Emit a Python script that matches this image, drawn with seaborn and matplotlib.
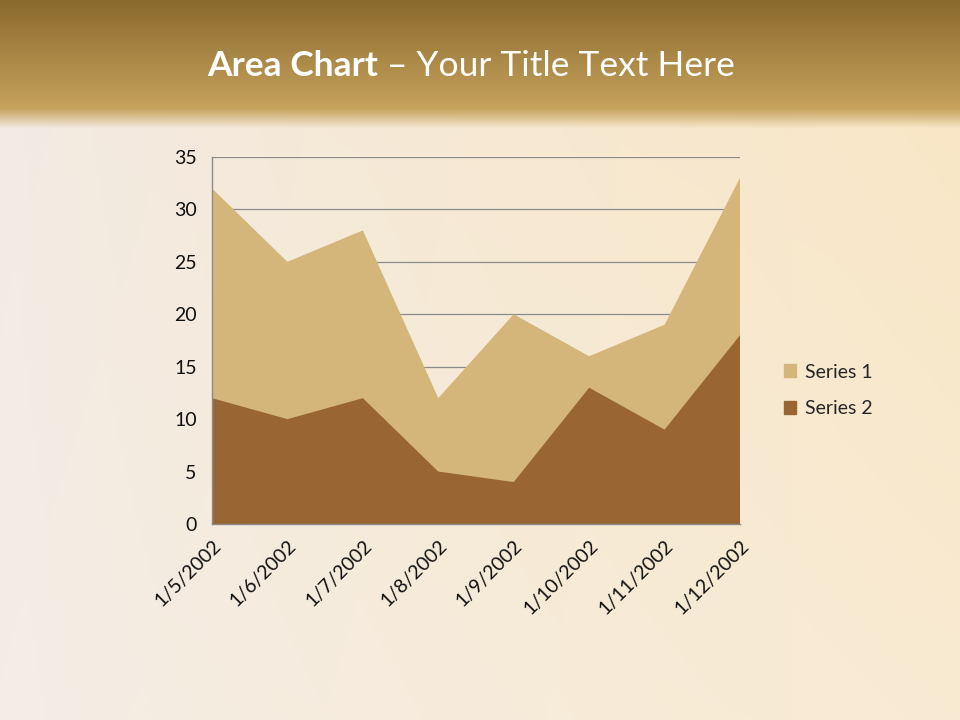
import numpy as np
import matplotlib
matplotlib.use("Agg")
import matplotlib.pyplot as plt
import matplotlib.patches as mpatches
import seaborn as sns
import pandas as pd

DATES = ["1/5/2002", "1/6/2002", "1/7/2002", "1/8/2002",
         "1/9/2002", "1/10/2002", "1/11/2002", "1/12/2002"]
SERIES_1 = [32, 25, 28, 12, 20, 16, 19, 33]
SERIES_2 = [12, 10, 12, 5, 4, 13, 9, 18]
Y_TICKS = [0, 5, 10, 15, 20, 25, 30, 35]

COLOR = {"Series 1": "#D4B57A", "Series 2": "#996633"}

df = pd.DataFrame({"Date": DATES, "Series 1": SERIES_1, "Series 2": SERIES_2})
df["pos"] = range(len(df))

sns.set_style("white")
plt.rcParams["font.family"] = ["Lato", "DejaVu Sans"]

fig = plt.figure(figsize=(9.6, 7.2), dpi=100)

# ── background: golden header + soft cream slide ────────────────────────────
H, W = 720, 960
yy = np.arange(H)[:, None] / H
xx = np.arange(W)[None, :] / W
top = np.array([138, 106, 46]) / 255
mid = np.array([198, 162, 92]) / 255
cream_l = np.array([242, 234, 228]) / 255
cream_r = np.array([249, 230, 196]) / 255
body = cream_l + (cream_r - cream_l) * (xx[..., None] ** 0.8)
body = body * (1 - 0.35 * yy[..., None]) + np.array([248, 243, 236]) / 255 * 0.35 * yy[..., None]
hdr = top + (mid - top) * np.clip(yy / (108 / H), 0, 1)[..., None]
blend = np.clip((yy - 108 / H) / (20 / H), 0, 1)[..., None]
bg = hdr * (1 - blend) + body * blend
bg_ax = fig.add_axes([0, 0, 1, 1], zorder=-10)
bg_ax.imshow(np.clip(bg, 0, 1), aspect="auto", extent=[0, 1, 0, 1])
bg_ax.axis("off")

# ── title ───────────────────────────────────────────────────────────────────
t1 = fig.text(207 / W, 1 - 76 / H, "Area Chart", color="white",
              fontsize=25.5, fontweight="bold", ha="left", va="baseline")
fig.canvas.draw()
ext = t1.get_window_extent()
fig.text(ext.x1 / W, 1 - 76 / H, " \u2013 Your Title Text Here", color="white",
         fontsize=25.5, ha="left", va="baseline")

# ── area chart ──────────────────────────────────────────────────────────────
ax = fig.add_axes([212 / W, 1 - 524 / H, 528 / W, 367 / H])
ax.patch.set_visible(False)
for name in ["Series 1", "Series 2"]:
    ax.fill_between(df["pos"], df[name], 0, facecolor=COLOR[name],
                    edgecolor="none", lw=0, label=name, zorder=2)

ax.set_xlim(0, len(DATES) - 1)
ax.set_ylim(0, 35)
ax.set_yticks(Y_TICKS)
ax.set_xticks(df["pos"])
ax.set_xticklabels(DATES, rotation=45, ha="right", rotation_mode="anchor")
ax.yaxis.grid(True, color="#8c8c8c", lw=0.9, zorder=0)
ax.xaxis.grid(False)
ax.set_axisbelow(True)
sns.despine(ax=ax, top=True, right=True)
for s in ["left", "bottom"]:
    ax.spines[s].set_color("#8c8c8c")
    ax.spines[s].set_linewidth(1.0)
ax.tick_params(axis="both", which="both", direction="out", length=6,
               color="#8c8c8c", labelsize=14, labelcolor="#111111", pad=3)
ax.tick_params(axis="y", pad=5)
ax.spines["top"].set_visible(False)
ax.spines["right"].set_visible(False)

handles = [mpatches.Patch(color=COLOR[n], label=n) for n in ["Series 1", "Series 2"]]
fig.legend(handles=handles, loc="upper left", bbox_to_anchor=(766 / W, 1 - 346 / H),
           frameon=False, fontsize=14, handlelength=0.65, handleheight=0.65,
           handletextpad=0.45, labelspacing=1.0)

fig.savefig("out.png", dpi=100)
